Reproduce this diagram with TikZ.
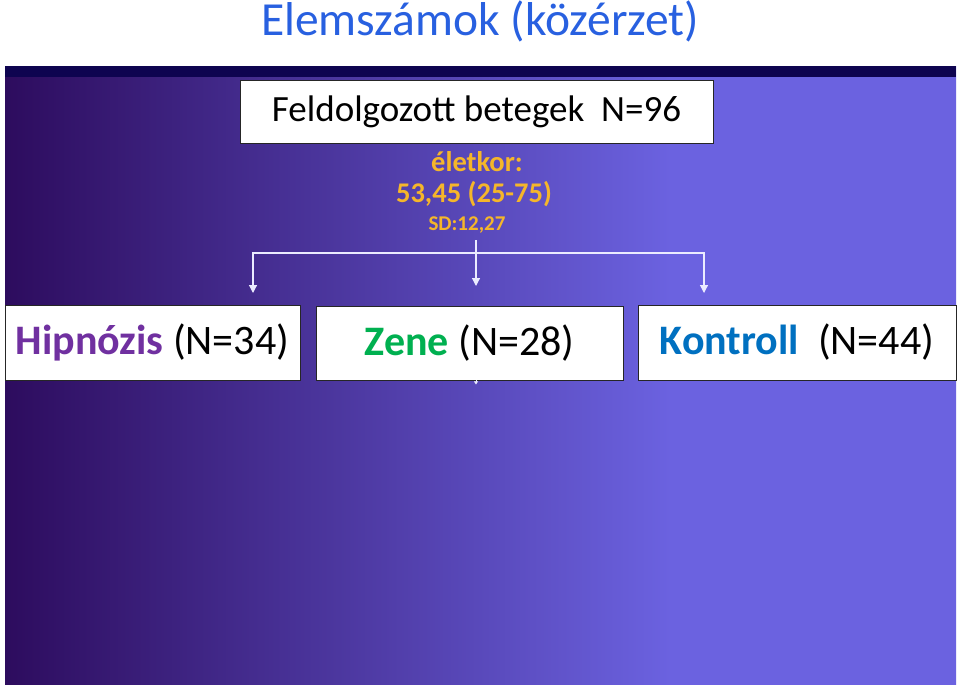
\documentclass[tikz,border=0pt]{standalone}
\usepackage{fontspec}
\setmainfont{Carlito}
\usetikzlibrary{arrows.meta}
\definecolor{titleblue}{RGB}{40,96,224}
\definecolor{pdark}{RGB}{45,12,94}
\definecolor{plight}{RGB}{107,98,224}
\definecolor{band}{RGB}{14,4,80}
\definecolor{agecol}{RGB}{245,182,42}
\definecolor{hypcol}{RGB}{112,48,160}
\definecolor{zenecol}{RGB}{0,176,80}
\definecolor{kontcol}{RGB}{0,112,192}
\pgfdeclarehorizontalshading{panelshade}{100bp}{color(0bp)=(pdark); color(25bp)=(pdark); color(60bp)=(plight); color(100bp)=(plight)}
\tikzset{
  box/.style={draw=black!85,fill=white,line width=0.8pt,inner sep=0pt},
  conn/.style={draw=white!92!blue,line width=1.2pt,-{Triangle[width=8pt,length=8pt]}}
}
\begin{document}
\begin{tikzpicture}[x=1pt,y=-1pt]
\useasboundingbox (0,0) rectangle (960,686);
\shade[shading=panelshade] (5,66) rectangle (956,684);
\fill[band] (5,66) rectangle (956,77);
\node[titleblue,font=\fontsize{47.5}{52}\selectfont] (title) at (480,21) {Elemszámok (közérzet)};
\node[box,minimum width=473pt,minimum height=63pt,font=\fontsize{37}{42}\selectfont] (total) at (476.5,111.5) {Feldolgozott betegek\ \ N=96};
\node[agecol,align=center,font=\bfseries\fontsize{28.5}{31}\selectfont,inner sep=0pt] (age) at (474,192)
  {\hspace*{6pt}életkor:\\53,45 (25-75)\\[-3pt]{\fontsize{21}{23}\selectfont SD:12,27\hspace*{14pt}}};
\node[box,minimum width=295pt,minimum height=75pt,font=\fontsize{42}{46}\selectfont] (hyp) at (152.5,342.5) {\textcolor{hypcol}{\bfseries Hipnózis} (N=34)};
\node[box,minimum width=307pt,minimum height=74pt,font=\fontsize{42}{46}\selectfont] (zene) at (469.5,343) {\textcolor{zenecol}{\bfseries Zene} (N=28)};
\node[box,minimum width=318pt,minimum height=75pt,font=\fontsize{42}{46}\selectfont] (kontroll) at (797,342.5) {\textcolor{kontcol}{\bfseries Kontroll}\ \ (N=44)};
\coordinate (split) at (476,253);
\coordinate (tipH) at (253,293);
\coordinate (tipZ) at (476,286);
\coordinate (tipK) at (704,293);
\draw[conn] (split) -| (tipH);
\draw[conn] (split) -| (tipK);
\draw[conn] (tipZ |- 0,240) -- (tipZ);
\draw[conn,line width=0.4pt,-{Triangle[width=4pt,length=3pt]}] (zene.south -| tipZ) -- ++(0,4);
\end{tikzpicture}
\end{document}
